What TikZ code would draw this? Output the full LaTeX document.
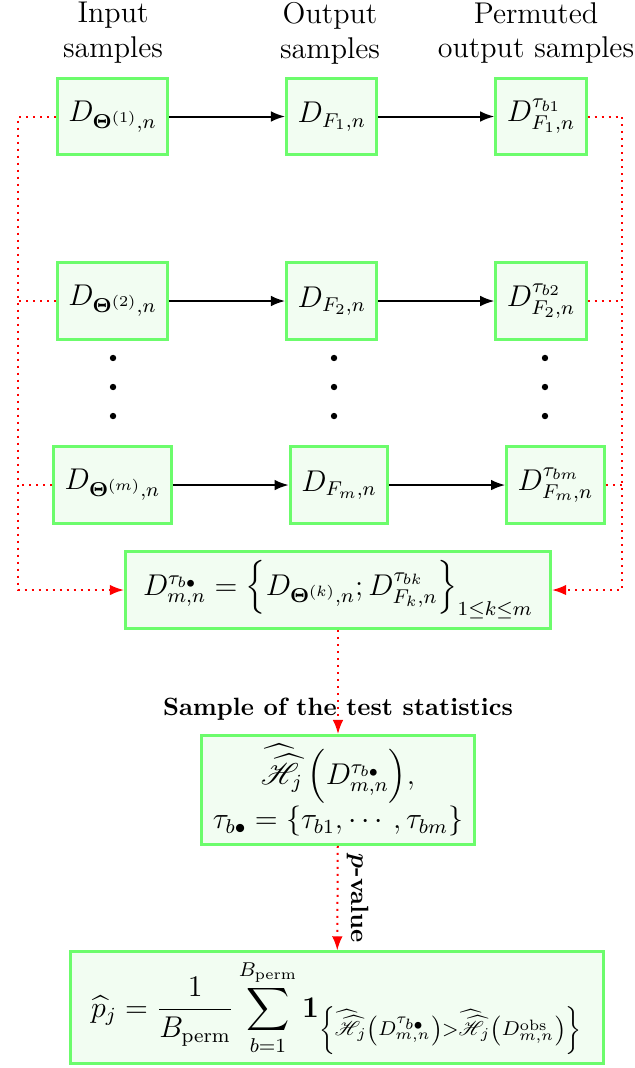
\documentclass[tikz,border=0pt]{standalone}
\usepackage{amsmath,amssymb}
\usepackage{mathrsfs}
\usepackage{xcolor}
\usetikzlibrary{arrows.meta,positioning,calc}
\definecolor{boxgreen}{RGB}{108,252,108}
\definecolor{boxfill}{RGB}{242,253,242}
\newcommand{\Hstat}{\widehat{\widehat{\mathscr{H}}}}

\begin{document}
\begin{tikzpicture}[
  samp/.style={draw=boxgreen, fill=boxfill, very thick, minimum height=10.8mm, inner xsep=4.4pt, font=\large},
  res/.style={samp, align=center},
  hdr/.style={align=center, font=\large},
  flow/.style={->, thick},
  permline/.style={red, dotted, thick},
  perm/.style={permline, ->},
  >={Latex[length=2mm]},
  node distance=16.3mm
]
\useasboundingbox (0,0) rectangle (8.927,-15.015);

% Column headers
\node[hdr] (hin)   at (1.589,-0.464) {Input\\samples};
\node[hdr] (hout)  at (4.640,-0.464) {Output\\samples};
\node[hdr] (hperm) at (7.536,-0.464) {Permuted\\output samples};

% Sample rows
\node[samp] (in1) at (1.582,-1.638) {$D_{\mathbf{\Theta}^{(1)},n}$};
\node[samp, right=of in1] (out1) {$D_{F_1,n}$};
\node[samp, right=of out1] (perm1) {$D^{\tau_{b1}}_{F_1,n}$};

\node[samp] (in2) at (1.582,-4.232) {$D_{\mathbf{\Theta}^{(2)},n}$};
\node[samp, right=of in2] (out2) {$D_{F_2,n}$};
\node[samp, right=of out2] (perm2) {$D^{\tau_{b2}}_{F_2,n}$};

\node[samp] (inm) at (1.582,-6.819) {$D_{\mathbf{\Theta}^{(m)},n}$};
\node[samp, right=of inm] (outm) {$D_{F_m,n}$};
\node[samp, right=of outm] (permm) {$D^{\tau_{bm}}_{F_m,n}$};

\foreach \r in {1,2,m} {
  \draw[flow] (in\r) -- (out\r);
  \draw[flow] (out\r) -- (perm\r);
}

% Vertical dots
\foreach \x in {1.589,4.696,7.662}
  \foreach \y in {-5.033,-5.441,-5.849}
    \fill (\x,\y) circle (0.045);

% Permuted sample
\node[samp, inner xsep=7pt] (coll) at (4.752,-8.295)
  {$D^{\tau_{b\bullet}}_{m,n} = \Big\{D_{\mathbf{\Theta}^{(k)},n}; D^{\tau_{bk}}_{F_k,n}\Big\}_{1\leq k\leq m}$};

\coordinate (lft) at (0.253,0);
\coordinate (rgt) at (8.745,0);
\draw[perm] (in1.west) -- (in1.west -| lft) |- (coll.west);
\draw[permline] (in2.west) -- (in2.west -| lft);
\draw[permline] (inm.west) -- (inm.west -| lft);
\draw[perm] (perm1.east) -- (perm1.east -| rgt) |- (coll.east);
\draw[permline] (perm2.east) -- (perm2.east -| rgt);
\draw[permline] (permm.east) -- (permm.east -| rgt);

% Test statistics and p-value
\node[res, label={[font=\bfseries, label distance=2pt]above:Sample of the test statistics}] (stat) at (4.752,-11.107)
  {$\Hstat_{\!\!j}\,\Big(D^{\tau_{b\bullet}}_{m,n}\Big),$\\
   $\tau_{b\bullet} = \left\{\tau_{b1},\cdots,\tau_{bm}\right\}$};

\node[res, inner xsep=8.4pt] (pval) at (4.738,-14.171)
  {$\displaystyle \widehat{p}_j = \frac{1}{B_{\mathrm{perm}}}\sum_{b=1}^{B_{\mathrm{perm}}}\mathbf{1}_{\left\{\Hstat_{\!j}\left(D^{\tau_{b\bullet}}_{m,n}\right) > \Hstat_{\!j}\left(D^{\mathrm{obs}}_{m,n}\right)\right\}}$};

\draw[perm] (coll) -- (stat);
\draw[perm] (stat) -- node[midway, rotate=-90, anchor=south, text=black, font=\bfseries\boldmath] {$p$-value} (pval);
\end{tikzpicture}
\end{document}
